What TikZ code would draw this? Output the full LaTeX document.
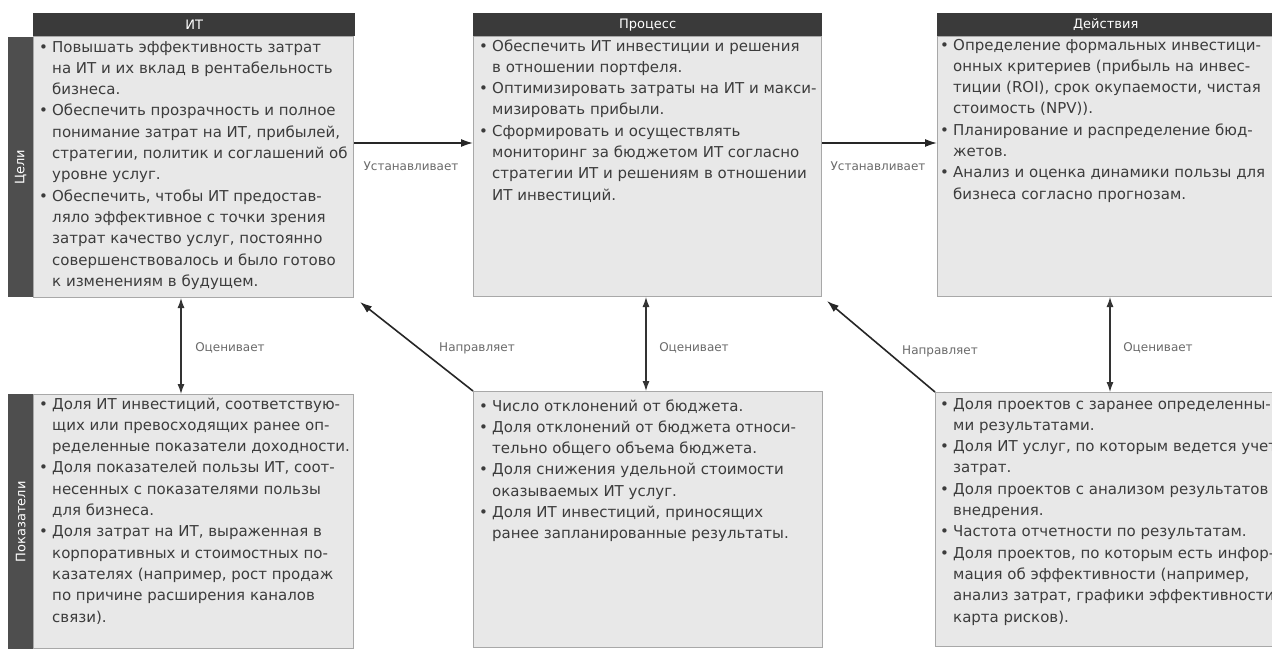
\documentclass[tikz,border=0pt]{standalone}
\usepackage{fontspec}
\setmainfont{DejaVu Sans}
\usetikzlibrary{arrows.meta}

\definecolor{headgray}{HTML}{3A3A3A}
\definecolor{sidegray}{HTML}{4E4E4E}
\definecolor{boxfill}{HTML}{E8E8E8}
\definecolor{boxline}{HTML}{A8A8A8}
\definecolor{inkgray}{HTML}{3C3C3C}
\definecolor{labgray}{HTML}{6A6A6A}

% bullet cell of a list row
\newcommand\bu{\makebox[13pt][l]{•}}
% list layout: bullet column + text column, one row per printed line
\newenvironment{bullets}{\begin{tabular}[t]{@{}l@{}l@{}}}{\end{tabular}}

\tikzset{
  panel/.style={rectangle, draw=boxline, line width=1pt, fill=boxfill, anchor=north west, inner sep=0pt},
  header/.style={rectangle, fill=headgray, text=white, anchor=north west, inner sep=0pt,
                 font=\fontsize{13}{15}\selectfont},
  sidebar/.style={rectangle, fill=sidegray, anchor=north west, inner sep=0pt},
  sidetext/.style={rotate=90, text=white, inner sep=0pt, font=\fontsize{13}{15}\selectfont},
  bodytext/.style={anchor=base west, inner sep=0pt, text=inkgray,
                   font=\fontsize{15}{21.3}\selectfont},
  linklabel/.style={text=labgray, inner sep=0pt, font=\fontsize{12}{14}\selectfont},
  flow/.style={draw=black!85, line width=1.6pt, -{Latex[length=12pt,width=8pt]}},
  rate/.style={draw=black!80, line width=1.2pt,
               {Latex[length=10pt,width=7pt]}-{Latex[length=10pt,width=7pt]}},
}

\begin{document}
\begin{tikzpicture}[x=1pt,y=-1pt]
\useasboundingbox (0,0) rectangle (1272,649);
\fill[white] (0,0) rectangle (1272,649);

% ---------- goals row ----------
\node[panel, minimum width=320pt, minimum height=261pt] (tl) at (33,36) {};
\node[header, minimum width=322pt, minimum height=23pt] (tlh) at (33,13) {ИТ};
\node[sidebar, minimum width=25pt, minimum height=260pt] (goalbar) at (8,37) {};
\node[sidetext] (goaltxt) at (goalbar.center) {Цели};

\node[panel, minimum width=348pt, minimum height=260pt] (tm) at (473,36) {};
\node[header, minimum width=349pt, minimum height=23pt] (tmh) at (473,13) {Процесс};

\node[panel, minimum width=337pt, minimum height=260pt] (tr) at (937,36) {};
\node[header, minimum width=337pt, minimum height=23pt] (trh) at (937,13) {Действия};

\node[bodytext] (tltxt) at (39,52) {\begin{bullets}
\bu & Повышать эффективность затрат\\
    & на ИТ и их вклад в рентабельность\\
    & бизнеса.\\
\bu & Обеспечить прозрачность и полное\\
    & понимание затрат на ИТ, прибылей,\\
    & стратегии, политик и соглашений об\\
    & уровне услуг.\\
\bu & Обеспечить, чтобы ИТ предостав-\\
    & ляло эффективное с точки зрения\\
    & затрат качество услуг, постоянно\\
    & совершенствовалось и было готово\\
    & к изменениям в будущем.
\end{bullets}};

\node[bodytext] (tmtxt) at (479,51) {\begin{bullets}
\bu & Обеспечить ИТ инвестиции и решения\\
    & в отношении портфеля.\\
\bu & Оптимизировать затраты на ИТ и макси-\\
    & мизировать прибыли.\\
\bu & Сформировать и осуществлять\\
    & мониторинг за бюджетом ИТ согласно\\
    & стратегии ИТ и решениям в отношении\\
    & ИТ инвестиций.
\end{bullets}};

\node[bodytext] (trtxt) at (940,50) {\begin{bullets}
\bu & Определение формальных инвестици-\\
    & онных критериев (прибыль на инвес-\\
    & тиции (ROI), срок окупаемости, чистая\\
    & стоимость (NPV)).\\
\bu & Планирование и распределение бюд-\\
    & жетов.\\
\bu & Анализ и оценка динамики пользы для\\
    & бизнеса согласно прогнозам.
\end{bullets}};

% ---------- metrics row ----------
\node[panel, minimum width=320pt, minimum height=254pt] (bl) at (33,394) {};
\node[sidebar, minimum width=25pt, minimum height=255pt] (metbar) at (8,394) {};
\node[sidetext] (mettxt) at (metbar.center) {Показатели};

\node[panel, minimum width=349pt, minimum height=256pt] (bm) at (473,391) {};
\node[panel, minimum width=338pt, minimum height=254pt] (br) at (935,392) {};

\node[bodytext] (bltxt) at (39,409) {\begin{bullets}
\bu & Доля ИТ инвестиций, соответствую-\\
    & щих или превосходящих ранее оп-\\
    & ределенные показатели доходности.\\
\bu & Доля показателей пользы ИТ, соот-\\
    & несенных с показателями пользы\\
    & для бизнеса.\\
\bu & Доля затрат на ИТ, выраженная в\\
    & корпоративных и стоимостных по-\\
    & казателях (например, рост продаж\\
    & по причине расширения каналов\\
    & связи).
\end{bullets}};

\node[bodytext] (bmtxt) at (479,411) {\begin{bullets}
\bu & Число отклонений от бюджета.\\
\bu & Доля отклонений от бюджета относи-\\
    & тельно общего объема бюджета.\\
\bu & Доля снижения удельной стоимости\\
    & оказываемых ИТ услуг.\\
\bu & Доля ИТ инвестиций, приносящих\\
    & ранее запланированные результаты.
\end{bullets}};

\node[bodytext] (brtxt) at (940,409) {\begin{bullets}
\bu & Доля проектов с заранее определенны-\\
    & ми результатами.\\
\bu & Доля ИТ услуг, по которым ведется учет\\
    & затрат.\\
\bu & Доля проектов с анализом результатов\\
    & внедрения.\\
\bu & Частота отчетности по результатам.\\
\bu & Доля проектов, по которым есть инфор-\\
    & мация об эффективности (например,\\
    & анализ затрат, графики эффективности,\\
    & карта рисков).
\end{bullets}};

% ---------- connectors ----------
\draw[flow] (tl.east |- 0,143) -- (tm.west |- 0,143);
\draw[flow] (tm.east |- 0,143) -- (tr.west |- 0,143);
\node[linklabel] (set1) at (411,166) {Устанавливает};
\node[linklabel] (set2) at (878,166) {Устанавливает};

\draw[rate] (tl.south -| 181,0) -- (bl.north -| 181,0);
\draw[rate] (tm.south -| 646,0) -- (bm.north -| 646,0);
\draw[rate] (tr.south -| 1110,0) -- (br.north -| 1110,0);
\node[linklabel] (rate1) at (230,348) {Оценивает};
\node[linklabel] (rate2) at (694,348) {Оценивает};
\node[linklabel] (rate3) at (1158,348) {Оценивает};

\draw[flow] (bm.north west) -- ([xshift=6pt,yshift=-4pt]tl.south east);
\draw[flow] (br.north west) -- ([xshift=5pt,yshift=-4pt]tm.south east);
\node[linklabel] (dir1) at (477,348) {Направляет};
\node[linklabel] (dir2) at (940,351) {Направляет};
\end{tikzpicture}
\end{document}
